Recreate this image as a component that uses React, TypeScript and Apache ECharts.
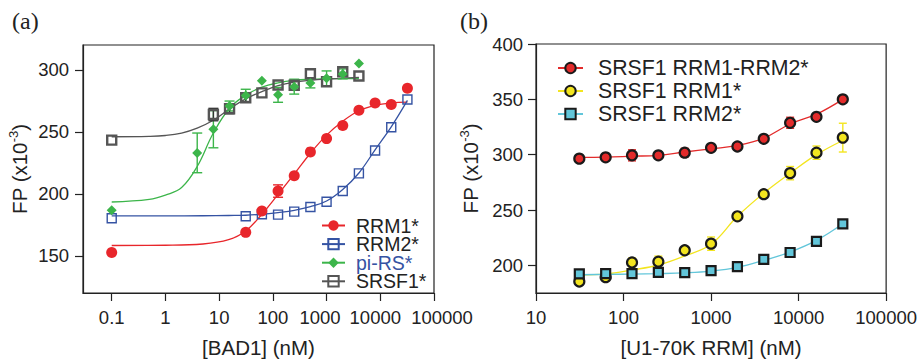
import React, { useEffect, useRef } from 'react';
import * as echarts from 'echarts';

// ---------- Panel (a) data ----------
const concRRM = [0.1, 31.25, 62.5, 125, 250, 500, 1000, 2000, 4000, 8000, 16000, 32000];
const rrm1Vals = [152.7, 168.9, 186.2, 202.2, 214.6, 233.8, 244.5, 255.1, 267.3, 273.2, 272.1, 285.2];
const rrm1Err = [0, 0, 0, 5, 0, 0, 0, 0, 0, 0, 0, 0];
const rrm2Vals = [180.3, 181.9, 183.5, 183.2, 185.6, 189.4, 193.6, 202.2, 216.5, 234.9, 253.7, 276.1];

const concPiRS = [0.1, 3.90625, 7.8125, 15.625, 31.25, 62.5, 125, 250, 500, 1000, 2000, 4000];
const piRSVals = [186.7, 233, 252.1, 270.8, 279.3, 291.2, 279.8, 286.4, 289.4, 293.1, 296.7, 305.1];
const piRSErr = [0, 16, 15, 4, 5, 0, 6, 6, 4, 6, 4, 0];

const concSRSF1 = [0.1, 7.8125, 15.625, 31.25, 62.5, 125, 250, 500, 1000, 2000, 4000];
const srsf1Vals = [243.3, 263.9, 268.6, 277.4, 281.4, 287.8, 287.6, 296.8, 290.4, 298.4, 295];
const srsf1Err = [0, 5, 4, 3, 0, 0, 0, 0, 0, 0, 0];

const fitXRRM = [0.1, 1, 5, 15, 31.25, 62.5, 125, 250, 500, 1000, 2000, 4000, 8000, 16000, 32000];
const rrm1Fit = [158.3, 158.5, 159.5, 163, 170, 183.5, 199.5, 216, 232.7, 247.3, 258.5, 267, 271.3, 273.3, 274];
const rrm2Fit = [182.2, 182.2, 182.3, 182.5, 182.7, 183.5, 184.9, 186.7, 189.6, 194.2, 203.5, 216.8, 235.4, 254, 275.3];

const fitXTop = [0.1, 0.5, 1, 2, 3.9, 7.8, 15.6, 31.25, 62.5, 125, 250, 500, 1000, 2000, 4000];
const piRSFit = [193.4, 195.5, 199, 205, 222, 249, 269, 279.5, 286, 289.5, 291.5, 292.3, 292.7, 292.9, 293];
const srsf1Fit = [246, 246.3, 247, 249, 253, 259.3, 268.5, 276.6, 282.4, 287.2, 290, 291.5, 292.5, 293.2, 293.9];

// ---------- Panel (b) data ----------
const concB = [31.25, 62.5, 125, 250, 500, 1000, 2000, 4000, 8000, 16000, 32000];
const r12Vals = [296.4, 297.6, 299.4, 299.4, 301.8, 306.2, 307.4, 314.3, 328.8, 334.2, 350];
const r12Err = [0, 0, 5, 0, 4, 0, 0, 0, 5, 0, 0];
const r1Vals = [185.4, 189.3, 202.6, 203.3, 213.6, 219.6, 244.3, 264.3, 283.3, 301.8, 315.4];
const r1Err = [0, 0, 4, 5, 0, 6, 0, 0, 6, 6, 13];
const r2Vals = [192.2, 192.5, 192.5, 193.7, 193.4, 195.2, 198.8, 205.3, 211.6, 221.7, 237.5];

const r12Fit = [297.5, 297.8, 298.6, 299.4, 302.4, 305.3, 308.3, 314.9, 327.7, 336.6, 350];
const r1Fit = [191.3, 192.2, 195.8, 200.3, 208.6, 219, 244.3, 265.2, 283.2, 300, 312.8];
const r2Fit = [191.5, 191.8, 192.1, 192.5, 193.2, 194.8, 198.2, 204.5, 212, 222.5, 237.5];

// ---------- ticks ----------
const ticksXA = [0.1, 1, 10, 100, 1000, 10000, 100000];
const labelsXA = [0.1, 1, 10, 100, 1000];
const labelXA4 = [10000];
const labelXA5 = [100000];
const ticksYA = [150, 200, 250, 300];
const ticksXB = [10, 100, 1000, 10000, 100000];
const ticksYB = [200, 250, 300, 350, 400];

const FONT = 'Liberation Sans, Arial, sans-serif';
const INK = '#222';

const C_RED = '#e8262b';
const C_BLUE = '#3553a3';
const C_GREEN = '#3cb54a';
const C_GRAY = '#555555';
const B_RED = '#e32b2b';
const B_YEL = '#f3e51f';
const B_CYAN = '#62c6da';

const zip = (xs: number[], ys: number[]) => xs.map((x, i) => [x, ys[i]]);
const errs = (xs: number[], ys: number[], es: number[]) =>
  xs.map((x, i) => [x, ys[i] - es[i], ys[i] + es[i]]).filter((d) => d[2] > d[1]);

const errSeries = (data: number[][], color: string, idx: number, cap: number) => ({
  type: 'custom',
  xAxisIndex: idx,
  yAxisIndex: idx,
  data,
  z: 3,
  encode: { x: 0, y: [1, 2] },
  renderItem: (_p: any, api: any) => {
    const x = api.value(0);
    const lo = api.coord([x, api.value(1)]);
    const hi = api.coord([x, api.value(2)]);
    const style = { stroke: color, lineWidth: 1.4, fill: 'none' };
    return {
      type: 'group',
      children: [
        { type: 'line', shape: { x1: lo[0], y1: lo[1], x2: hi[0], y2: hi[1] }, style },
        { type: 'line', shape: { x1: lo[0] - cap, y1: lo[1], x2: lo[0] + cap, y2: lo[1] }, style },
        { type: 'line', shape: { x1: hi[0] - cap, y1: hi[1], x2: hi[0] + cap, y2: hi[1] }, style },
      ],
    };
  },
});

const fitSeries = (name: string, xs: number[], ys: number[], color: string, idx: number, symbol: string, itemStyle: any) => ({
  type: 'line',
  name,
  xAxisIndex: idx,
  yAxisIndex: idx,
  data: zip(xs, ys),
  smooth: 0.4,
  showSymbol: false,
  symbol,
  symbolSize: 10,
  itemStyle,
  lineStyle: { color, width: 1.3 },
  z: 2,
});

const pointSeries = (xs: number[], ys: number[], idx: number, symbol: string, size: number, itemStyle: any) => ({
  type: 'scatter',
  xAxisIndex: idx,
  yAxisIndex: idx,
  data: zip(xs, ys),
  symbol,
  symbolSize: size,
  itemStyle: { opacity: 1, ...itemStyle },
  z: 4,
});

const axisLine = { show: true, lineStyle: { color: INK, width: 1.2 } };
const tickStyle = { color: INK, width: 1.2 };
const LFS = 18.5;
const labelStyle = { fontSize: LFS, color: INK, fontFamily: FONT };
const tok = { fontSize: LFS, color: INK, fontFamily: FONT };
const labelRich = {
  l13: { ...tok, padding: [0, 13, 0, 0] },
  l10: { ...tok, padding: [0, 10, 0, 0] },
  r16: { ...tok, padding: [0, 0, 0, 16] },
};
const nameStyle = { fontSize: 20.5, color: INK, fontFamily: FONT };
const yName = '{a|FP (x10}{s|-3}{a|)}';
const yNameStyle = {
  rich: {
    a: { fontSize: 20.5, color: INK, fontFamily: FONT, lineHeight: 24 },
    s: { fontSize: 13, color: INK, fontFamily: FONT, verticalAlign: 'top', lineHeight: 14 },
  },
};

const labelOnlyAxisA = (values: number[], fmt: (v: number) => string) => ({
  type: 'log', logBase: 10, gridIndex: 0, min: 0.0292, max: 100001, position: 'bottom',
  axisLine: { show: false }, axisTick: { show: false }, splitLine: { show: false }, minorTick: { show: false },
  axisLabel: { ...labelStyle, margin: 15, customValues: values, formatter: fmt, rich: labelRich },
});

export default function App() {
  const ref = useRef<HTMLDivElement>(null);
  useEffect(() => {
    if (!ref.current) return;
    const chart = echarts.init(ref.current, null, { renderer: 'svg' });
    const option: any = {
      animation: false,
      backgroundColor: '#fff',
      title: [
        { text: '(a)', left: 12, top: 9, padding: 0, textStyle: { fontFamily: 'Liberation Serif, serif', fontSize: 24, fontWeight: 'normal', color: INK } },
        { text: '(b)', left: 460, top: 9, padding: 0, textStyle: { fontFamily: 'Liberation Serif, serif', fontSize: 24, fontWeight: 'normal', color: INK } },
      ],
      grid: [
        { left: 83, top: 45, width: 351, height: 251, show: true, borderColor: INK, borderWidth: 1.2, backgroundColor: 'transparent' },
        { left: 536, top: 44, width: 351, height: 251, show: true, borderColor: INK, borderWidth: 1.2, backgroundColor: 'transparent' },
      ],
      legend: [
        {
          data: ['RRM1*', 'RRM2*', { name: 'pi-RS*', textStyle: { color: C_BLUE } }, 'SRSF1*'],
          orient: 'vertical',
          left: 321,
          top: 215.5,
          padding: 0,
          itemWidth: 23,
          itemHeight: 13,
          itemGap: -1.4,
          selectedMode: false,
          textStyle: { fontSize: 19.5, fontFamily: FONT, color: INK, lineHeight: 13, padding: [0, 0, 0, 6] },
        },
        {
          data: ['SRSF1 RRM1-RRM2*', 'SRSF1 RRM1*', 'SRSF1 RRM2*'],
          orient: 'vertical',
          left: 557,
          top: 57.5,
          padding: 0,
          itemWidth: 25,
          itemHeight: 13,
          itemGap: 2,
          selectedMode: false,
          textStyle: { fontSize: 21.3, fontFamily: FONT, color: INK, lineHeight: 13, padding: [0, 0, 0, 10] },
        },
      ],
      xAxis: [
        {
          type: 'log', logBase: 10, gridIndex: 0, min: 0.0292, max: 100001, position: 'bottom',
          axisLine, splitLine: { show: false }, minorTick: { show: false },
          axisTick: { show: true, length: 8, lineStyle: tickStyle, customValues: ticksXA },
          axisLabel: {
            ...labelStyle, margin: 15, customValues: labelsXA, rich: labelRich,
            formatter: (v: number) => (v === 1000 ? '{l13|1000}' : String(v)),
          },
          name: '[BAD1] (nM)', nameLocation: 'middle', nameGap: 44, nameTextStyle: nameStyle,
        },
        {
          type: 'log', logBase: 10, gridIndex: 1, min: 10, max: 100001, position: 'bottom',
          axisLine, splitLine: { show: false }, minorTick: { show: false },
          axisTick: { show: true, length: 8, lineStyle: tickStyle, customValues: ticksXB },
          axisLabel: { ...labelStyle, margin: 15, customValues: ticksXB, formatter: (v: number) => String(v) },
          name: '[U1-70K RRM] (nM)', nameLocation: 'middle', nameGap: 44, nameTextStyle: nameStyle,
        },
        labelOnlyAxisA(labelXA4, (v: number) => `{l10|${v}}`),
        labelOnlyAxisA(labelXA5, (v: number) => `{r16|${v}}`),
      ],
      yAxis: [
        {
          type: 'value', gridIndex: 0, min: 120, max: 320,
          axisLine, splitLine: { show: false },
          axisTick: { show: true, length: 8, lineStyle: tickStyle, customValues: ticksYA },
          axisLabel: { ...labelStyle, margin: 14, customValues: ticksYA },
          name: yName, nameLocation: 'middle', nameRotate: 90, nameGap: 52, nameTextStyle: yNameStyle,
        },
        {
          type: 'value', gridIndex: 1, min: 175, max: 400,
          axisLine, splitLine: { show: false },
          axisTick: { show: true, length: 8, lineStyle: tickStyle, customValues: ticksYB },
          axisLabel: { ...labelStyle, margin: 13, customValues: ticksYB },
          name: yName, nameLocation: 'middle', nameRotate: 90, nameGap: 54, nameTextStyle: yNameStyle,
        },
      ],
      series: [
        fitSeries('RRM1*', fitXRRM, rrm1Fit, C_RED, 0, 'circle', { color: C_RED }),
        fitSeries('RRM2*', fitXRRM, rrm2Fit, C_BLUE, 0, 'rect', { color: 'rgba(0,0,0,0)', borderColor: C_BLUE, borderWidth: 1.4 }),
        fitSeries('pi-RS*', fitXTop, piRSFit, C_GREEN, 0, 'diamond', { color: C_GREEN }),
        fitSeries('SRSF1*', fitXTop, srsf1Fit, C_GRAY, 0, 'rect', { color: 'rgba(0,0,0,0)', borderColor: C_GRAY, borderWidth: 2.4 }),
        errSeries(errs(concRRM, rrm1Vals, rrm1Err), C_RED, 0, 5),
        errSeries(errs(concPiRS, piRSVals, piRSErr), C_GREEN, 0, 5),
        errSeries(errs(concSRSF1, srsf1Vals, srsf1Err), '#333', 0, 5),
        pointSeries(concRRM, rrm2Vals, 0, 'rect', 9, { color: 'rgba(0,0,0,0)', borderColor: C_BLUE, borderWidth: 1.4 }),
        pointSeries(concRRM, rrm1Vals, 0, 'circle', 11, { color: C_RED }),
        pointSeries(concSRSF1, srsf1Vals, 0, 'rect', 9, { color: 'rgba(0,0,0,0)', borderColor: C_GRAY, borderWidth: 2.4 }),
        pointSeries(concPiRS, piRSVals, 0, 'diamond', 10, { color: C_GREEN }),
        fitSeries('SRSF1 RRM1-RRM2*', concB, r12Fit, B_RED, 1, 'circle', { color: B_RED, borderColor: '#1a1a1a', borderWidth: 2 }),
        fitSeries('SRSF1 RRM1*', concB, r1Fit, B_YEL, 1, 'circle', { color: B_YEL, borderColor: '#1a1a1a', borderWidth: 2 }),
        fitSeries('SRSF1 RRM2*', concB, r2Fit, B_CYAN, 1, 'rect', { color: B_CYAN, borderColor: '#1a1a1a', borderWidth: 2 }),
        errSeries(errs(concB, r12Vals, r12Err), B_RED, 1, 4),
        errSeries(errs(concB, r1Vals, r1Err), B_YEL, 1, 4),
        pointSeries(concB, r1Vals, 1, 'circle', 10, { color: B_YEL, borderColor: '#1a1a1a', borderWidth: 2.2 }),
        pointSeries(concB, r2Vals, 1, 'rect', 9, { color: B_CYAN, borderColor: '#1a1a1a', borderWidth: 2.2 }),
        pointSeries(concB, r12Vals, 1, 'circle', 10, { color: B_RED, borderColor: '#1a1a1a', borderWidth: 2.2 }),
      ],
    };
    chart.setOption(option);
    return () => chart.dispose();
  }, []);
  return <div ref={ref} style={{ position: 'fixed', left: 0, top: 0, width: 920, height: 363, background: '#fff' }} />;
}
